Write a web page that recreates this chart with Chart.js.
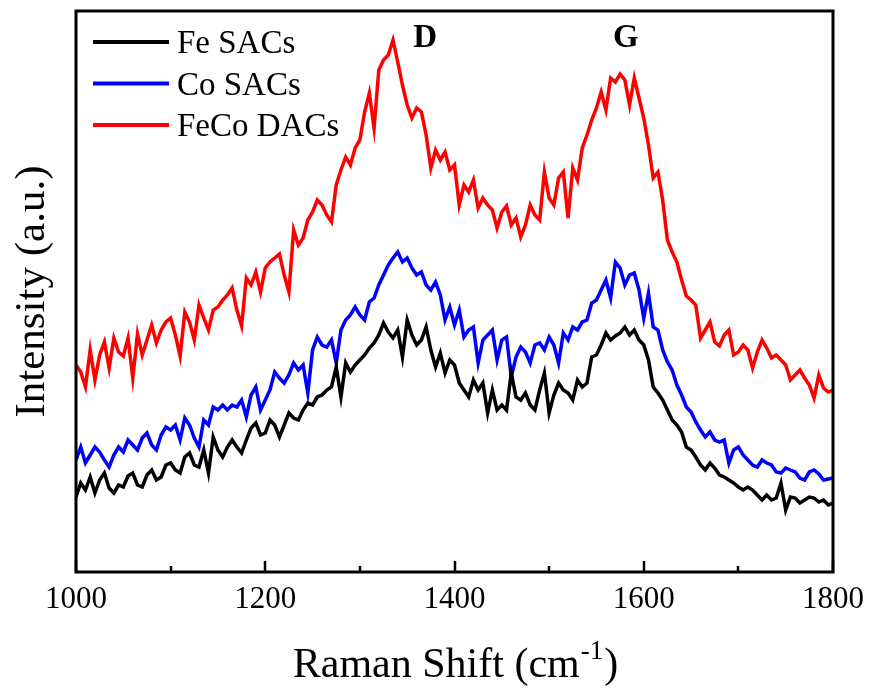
<!DOCTYPE html>
<html>
<head>
<meta charset="utf-8">
<script src="https://cdn.jsdelivr.net/npm/chart.js@4/dist/chart.umd.min.js"></script>
<style>
html,body{margin:0;padding:0;background:#fff;}
#wrap{width:870px;height:693px;}
</style>
</head>
<body>
<div id="wrap"><canvas id="c" width="870" height="693"></canvas></div>
<script>
// Raman shift axis (cm-1), sampled every 5 cm-1 from 1000 to 1800
const shiftStart = 1000, shiftStep = 5, shiftCount = 161;
const ramanShift = Array.from({length: shiftCount}, (_, i) => shiftStart + shiftStep * i);

const seriesNames = ['Fe SACs', 'Co SACs', 'FeCo DACs'];
const seriesColors = ['#000000', '#0000ff', '#ff0000'];

// Intensity (a.u.)
const feSACs = [
  75,89,82,95,79,92,99,84,79,87,
  85,96,99,87,85,97,102,92,95,107,
  109,102,99,115,119,107,105,122,99,135,
  122,115,125,132,125,119,132,144,149,137,
  139,152,147,135,147,159,154,152,162,169,
  167,175,177,182,185,205,175,209,200,207,
  212,217,224,229,237,249,240,234,242,215,
  252,237,227,232,245,222,205,219,199,212,
  207,189,182,175,192,182,189,159,182,162,
  167,162,199,175,172,179,167,162,182,199,
  159,177,189,182,179,172,192,185,189,215,
  217,227,239,232,236,239,245,237,242,232,
  227,212,185,179,172,162,152,147,140,125,
  122,115,107,102,109,104,97,95,92,89,
  85,82,85,82,77,72,77,72,74,89,
  62,75,74,69,72,75,74,70,72,67,
  69
];
const coSACs = [
  112,125,109,117,125,120,112,105,117,125,
  120,132,127,122,134,139,127,122,137,145,
  142,147,132,154,147,134,125,152,147,165,
  162,167,162,167,165,172,155,177,185,162,
  172,182,200,194,189,197,209,202,207,179,
  222,235,227,225,232,209,242,252,257,265,
  257,252,270,274,287,297,307,314,320,310,
  314,304,297,300,287,282,290,277,252,265,
  247,262,235,242,245,209,232,237,242,212,
  232,235,195,215,225,220,209,227,229,222,
  235,227,209,239,232,245,242,250,252,269,
  272,282,292,274,310,304,287,297,299,282,
  254,279,245,242,222,210,202,187,177,165,
  160,150,142,135,140,132,130,132,109,122,
  125,117,112,107,105,112,109,107,100,99,
  104,102,100,94,92,100,102,98,92,93,
  94
];
const fecoDACs = [
  207,200,185,222,192,217,230,204,234,220,
  216,234,194,238,217,232,247,229,242,250,
  254,237,216,260,250,232,267,254,242,262,
  265,272,277,284,262,246,294,287,300,280,
  304,310,314,318,297,280,342,327,334,352,
  360,372,367,357,350,387,402,415,407,424,
  432,460,479,444,502,512,517,532,510,487,
  467,454,464,460,437,404,422,412,420,402,
  407,367,387,380,392,364,374,367,362,344,
  360,366,347,354,335,347,367,357,352,400,
  374,367,394,400,354,404,392,424,437,452,
  464,480,462,494,490,498,492,467,494,474,
  454,427,394,400,372,332,320,310,292,276,
  272,267,234,242,250,230,226,237,242,217,
  220,227,222,204,220,232,224,214,217,212,
  207,192,197,202,194,187,174,197,184,180,
  182
];

const xTickLabels = [1000, 1200, 1400, 1600, 1800];
const xMinorTicks = [1100, 1300, 1500, 1700];
const peakLabels = ['D', 'G'];
const peakShift = [1369, 1581];
const peakIntensity = [534, 534];

const allSeries = [feSACs, coSACs, fecoDACs];
const SERIF = "'Liberation Serif', 'Times New Roman', serif";

const decor = {
  id: 'decor',
  afterDraw(chart) {
    const {ctx, chartArea: a, scales: {x, y}} = chart;
    ctx.save();
    // frame
    ctx.strokeStyle = '#000';
    ctx.lineWidth = 3;
    ctx.strokeRect(a.left, a.top, a.right - a.left, a.bottom - a.top);
    // inward ticks on bottom axis
    ctx.lineWidth = 2.5;
    ctx.beginPath();
    xTickLabels.forEach(v => {
      const px = Math.round(x.getPixelForValue(v));
      ctx.moveTo(px, a.bottom); ctx.lineTo(px, a.bottom - 11);
    });
    xMinorTicks.forEach(v => {
      const px = Math.round(x.getPixelForValue(v));
      ctx.moveTo(px, a.bottom); ctx.lineTo(px, a.bottom - 6);
    });
    ctx.stroke();

    // legend inside plot (top-left)
    ctx.font = '33px ' + SERIF;
    ctx.fillStyle = '#000';
    ctx.textAlign = 'left';
    ctx.textBaseline = 'alphabetic';
    chart.data.datasets.forEach((ds, i) => {
      const ly = 42 + i * 41.5;
      ctx.strokeStyle = ds.borderColor;
      ctx.lineWidth = 4;
      ctx.beginPath();
      ctx.moveTo(93, ly); ctx.lineTo(169, ly);
      ctx.stroke();
      ctx.fillText(ds.label, 177, ly + 11);
    });

    // peak labels
    ctx.font = 'bold 33px ' + SERIF;
    ctx.textAlign = 'center';
    ctx.textBaseline = 'middle';
    peakLabels.forEach((t, i) => {
      ctx.fillText(t, x.getPixelForValue(peakShift[i]), y.getPixelForValue(peakIntensity[i]));
    });

    // y title
    ctx.save();
    ctx.translate(33, (a.top + a.bottom) / 2);
    ctx.rotate(-Math.PI / 2);
    ctx.font = '43px ' + SERIF;
    ctx.textAlign = 'center';
    ctx.textBaseline = 'middle';
    ctx.fillText('Intensity (a.u.)', 0, 0);
    ctx.restore();

    // x title with superscript
    const cx = (a.left + a.right) / 2;
    const base = 677;
    const main1 = 'Raman Shift (cm', sup = '-1', main2 = ')';
    ctx.textBaseline = 'alphabetic';
    ctx.textAlign = 'left';
    ctx.font = '42px ' + SERIF;
    const w1 = ctx.measureText(main1).width, w3 = ctx.measureText(main2).width;
    ctx.font = '27px ' + SERIF;
    const w2 = ctx.measureText(sup).width;
    let sx = cx - (w1 + w2 + w3) / 2;
    ctx.font = '42px ' + SERIF;
    ctx.fillText(main1, sx, base);
    ctx.font = '27px ' + SERIF;
    ctx.fillText(sup, sx + w1 + 1, base - 18);
    ctx.font = '42px ' + SERIF;
    ctx.fillText(main2, sx + w1 + w2 + 2, base);
    ctx.restore();
  }
};

new Chart(document.getElementById('c'), {
  type: 'line',
  data: {
    datasets: allSeries.map((s, k) => ({
      label: seriesNames[k],
      data: ramanShift.map((v, i) => ({x: v, y: s[i]})),
      borderColor: seriesColors[k],
      backgroundColor: seriesColors[k],
      borderWidth: 3.5,
      pointRadius: 0,
      tension: 0,
      fill: false
    }))
  },
  options: {
    responsive: false,
    animation: false,
    devicePixelRatio: 1,
    layout: {padding: {top: 11, right: 37, left: 0, bottom: 0}},
    plugins: {legend: {display: false}, tooltip: {enabled: false}},
    scales: {
      x: {
        type: 'linear', min: 1000, max: 1800,
        afterFit: s => { s.height = 121; s.paddingLeft = 0; s.paddingRight = 0; },
        afterBuildTicks: s => { s.ticks = xTickLabels.map(v => ({value: v})); },
        ticks: {color: '#000', font: {family: SERIF, size: 31}, padding: 9, maxRotation: 0,
                callback: v => String(v)},
        grid: {display: false, drawTicks: false},
        border: {display: false}
      },
      y: {
        min: 0, max: 561,
        afterFit: s => { s.width = 76; s.paddingTop = 0; s.paddingBottom = 0; },
        ticks: {display: false},
        grid: {display: false, drawTicks: false},
        border: {display: false}
      }
    }
  },
  plugins: [decor]
});
</script>
</body>
</html>
